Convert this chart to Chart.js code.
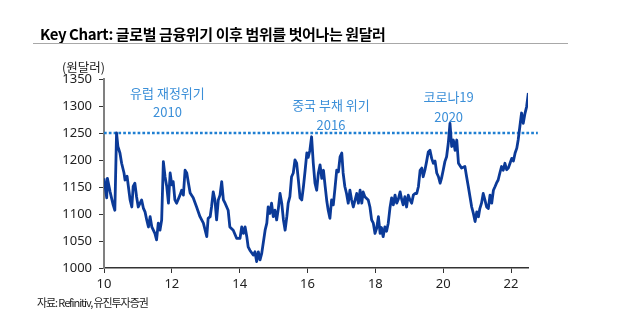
<!DOCTYPE html>
<html>
<head>
<meta charset="utf-8">
<script src="https://cdn.jsdelivr.net/npm/chart.js@4.4.1/dist/chart.umd.min.js"></script>
<style>
  html, body { margin: 0; padding: 0; background: #ffffff; }
  body { width: 621px; height: 331px; position: relative; overflow: hidden; font-family: "Noto Sans CJK KR", "Noto Sans", sans-serif; }
  #wrap { position: absolute; left: 0; top: 0; width: 621px; height: 331px; }
  #title { position: absolute; left: 40px; top: 23px; font-size: 15px; font-weight: bold; color: #000; letter-spacing: -0.4px; white-space: nowrap; }
  #rule { position: absolute; left: 33px; top: 43px; width: 535px; height: 0; border-top: 1.5px solid #a8a8a8; }
  #ytitle { position: absolute; left: 62px; top: 57px; font-size: 12.5px; color: #222; white-space: nowrap; }
  #source { position: absolute; left: 37px; top: 294px; font-size: 11px; color: #222; letter-spacing: -1.1px; white-space: nowrap; }
</style>
</head>
<body>
<div id="wrap"><canvas id="c" width="621" height="331"></canvas></div>
<div id="title">Key Chart: 글로벌 금융위기 이후 범위를 벗어나는 원달러</div>
<div id="rule"></div>
<div id="ytitle">(원달러)</div>
<div id="source">자료: Refinitiv, 유진투자증권</div>
<script>
// ---- data ----
const years = [
  2010.00,2010.03,2010.08,2010.10,2010.18,2010.27,2010.32,2010.37,2010.41,2010.47,
  2010.52,2010.59,2010.62,2010.68,2010.77,2010.82,2010.86,2010.91,2010.96,2011.01,
  2011.11,2011.16,2011.21,2011.26,2011.31,2011.36,2011.41,2011.50,2011.55,2011.60,
  2011.65,2011.70,2011.75,2011.80,2011.85,2011.90,2011.95,2012.00,2012.04,2012.09,
  2012.14,2012.24,2012.29,2012.34,2012.39,2012.44,2012.49,2012.54,2012.63,2012.73,
  2012.83,2012.93,2013.03,2013.07,2013.13,2013.17,2013.22,2013.27,2013.32,2013.37,
  2013.42,2013.47,2013.52,2013.57,2013.66,2013.71,2013.81,2013.91,2014.01,2014.06,
  2014.11,2014.16,2014.21,2014.25,2014.30,2014.40,2014.45,2014.50,2014.55,2014.60,
  2014.65,2014.75,2014.80,2014.84,2014.89,2014.94,2014.99,2015.04,2015.09,2015.14,
  2015.19,2015.24,2015.29,2015.34,2015.39,2015.43,2015.48,2015.53,2015.58,2015.63,
  2015.68,2015.73,2015.78,2015.83,2015.88,2015.93,2015.98,2016.02,2016.07,2016.12,
  2016.17,2016.22,2016.27,2016.32,2016.37,2016.42,2016.47,2016.52,2016.57,2016.61,
  2016.66,2016.71,2016.76,2016.81,2016.86,2016.91,2016.96,2017.01,2017.05,2017.10,
  2017.15,2017.20,2017.25,2017.30,2017.35,2017.45,2017.50,2017.55,2017.60,2017.64,
  2017.69,2017.79,2017.84,2017.89,2017.94,2017.99,2018.04,2018.09,2018.14,2018.18,
  2018.23,2018.28,2018.33,2018.38,2018.43,2018.48,2018.53,2018.58,2018.63,2018.68,
  2018.73,2018.78,2018.82,2018.87,2018.92,2018.97,2019.02,2019.07,2019.12,2019.17,
  2019.22,2019.27,2019.32,2019.37,2019.41,2019.46,2019.51,2019.56,2019.61,2019.66,
  2019.71,2019.76,2019.81,2019.86,2019.91,2019.95,2020.00,2020.05,2020.10,2020.15,
  2020.20,2020.25,2020.30,2020.35,2020.40,2020.45,2020.54,2020.64,2020.69,2020.74,
  2020.79,2020.84,2020.89,2020.94,2020.99,2021.04,2021.08,2021.13,2021.18,2021.23,
  2021.28,2021.33,2021.38,2021.43,2021.48,2021.53,2021.57,2021.62,2021.67,2021.72,
  2021.77,2021.82,2021.87,2021.92,2021.97,2022.02,2022.07,2022.12,2022.17,2022.21,
  2022.26,2022.31,2022.36,2022.41,2022.46,2022.51
];
const usdKrw = [
  1166,1153,1130,1166,1141,1117,1107,1250,1225,1213,
  1194,1176,1163,1170,1126,1113,1151,1157,1132,1113,
  1126,1111,1104,1089,1076,1095,1076,1064,1052,1083,
  1070,1089,1197,1169,1151,1120,1176,1154,1160,1126,
  1120,1135,1144,1135,1181,1176,1157,1139,1130,1113,
  1095,1083,1058,1092,1095,1113,1141,1126,1089,1126,
  1135,1160,1126,1120,1107,1076,1070,1055,1055,1076,
  1064,1076,1058,1039,1033,1024,1030,1012,1030,1015,
  1027,1070,1083,1113,1101,1120,1095,1107,1089,1110,
  1138,1120,1089,1070,1095,1120,1132,1169,1176,1200,
  1194,1163,1130,1126,1151,1181,1213,1205,1218,1243,
  1194,1157,1144,1176,1191,1166,1181,1151,1123,1107,
  1092,1126,1117,1148,1181,1178,1206,1213,1176,1151,
  1138,1120,1144,1126,1113,1138,1120,1144,1120,1141,
  1132,1126,1113,1089,1083,1064,1074,1095,1064,1075,
  1058,1076,1068,1083,1111,1130,1117,1135,1120,1128,
  1141,1126,1117,1132,1113,1135,1126,1120,1135,1138,
  1138,1151,1181,1185,1169,1181,1197,1215,1218,1203,
  1194,1198,1176,1169,1157,1166,1181,1197,1206,1231,
  1268,1225,1237,1218,1237,1194,1185,1188,1169,1151,
  1132,1113,1101,1086,1104,1095,1110,1120,1138,1126,
  1113,1110,1135,1120,1144,1151,1157,1163,1176,1188,
  1181,1194,1182,1185,1194,1203,1198,1213,1222,1237,
  1262,1287,1268,1286,1299,1324
];
const refLevel = 1250;
const yTicks = [1000, 1050, 1100, 1150, 1200, 1250, 1300, 1350];
const xTickYears = [2010, 2012, 2014, 2016, 2018, 2020, 2022];
const notes = [
  { lines: ["유럽 재정위기", "2010"], year: 2011.87 },
  { lines: ["중국 부채 위기", "2016"], year: 2016.69 },
  { lines: ["코로나19", "2020"], year: 2020.16 }
];
const noteLevels = [[1324, 1288], [1302, 1265], [1317, 1280]];

// ---- chart ----
const series = years.map((x, i) => ({ x: x, y: usdKrw[i] }));
const refLine = [{ x: 2010, y: refLevel }, { x: 2022.79, y: refLevel }];

const notePlugin = {
  id: 'notes',
  afterDatasetsDraw(chart) {
    const ctx = chart.ctx, xs = chart.scales.x, ys = chart.scales.y;
    ctx.save();
    ctx.fillStyle = '#3b8fd8';
    ctx.font = '13px "Noto Sans CJK KR", "Noto Sans", sans-serif';
    ctx.textAlign = 'center';
    ctx.textBaseline = 'middle';
    notes.forEach((n, i) => {
      n.lines.forEach((t, j) => {
        ctx.fillText(t, xs.getPixelForValue(n.year), ys.getPixelForValue(noteLevels[i][j]));
      });
    });
    ctx.restore();
  }
};

new Chart(document.getElementById('c'), {
  type: 'line',
  data: {
    datasets: [
      { data: series, borderColor: '#0b3a98', borderWidth: 2.8, pointRadius: 0, tension: 0, fill: false, borderJoinStyle: 'round' },
      { data: refLine, borderColor: '#1f7fd2', borderWidth: 2.7, borderDash: [2.7, 2.1], pointRadius: 0, fill: false, clip: false }
    ]
  },
  options: {
    responsive: false,
    animation: false,
    events: [],
    layout: { padding: { left: 0, right: 93, top: 79, bottom: 0 } },
    plugins: { legend: { display: false }, tooltip: { enabled: false } },
    scales: {
      x: {
        type: 'linear', min: 2010, max: 2022.5,
        afterFit: s => { s.height = 63; },
        afterBuildTicks: s => { s.ticks = xTickYears.map(v => ({ value: v })); },
        ticks: { callback: v => String(v - 2000), color: '#222', font: { family: '"Noto Sans", sans-serif', size: 13 }, padding: 3, maxRotation: 0, autoSkip: false },
        grid: { drawOnChartArea: false, drawTicks: true, tickLength: 5, tickColor: '#333', tickWidth: 1 },
        border: { color: '#333', width: 1.5 }
      },
      y: {
        min: 1000, max: 1350,
        afterFit: s => { s.width = 104; },
        afterBuildTicks: s => { s.ticks = yTicks.map(v => ({ value: v })); },
        ticks: { callback: v => String(v), color: '#222', font: { family: '"Noto Sans", sans-serif', size: 13 }, padding: 7 },
        grid: { drawOnChartArea: false, drawTicks: true, tickLength: 5, tickColor: '#333', tickWidth: 1 },
        border: { color: '#808080', width: 2 }
      }
    }
  },
  plugins: [notePlugin]
});
</script>
</body>
</html>
